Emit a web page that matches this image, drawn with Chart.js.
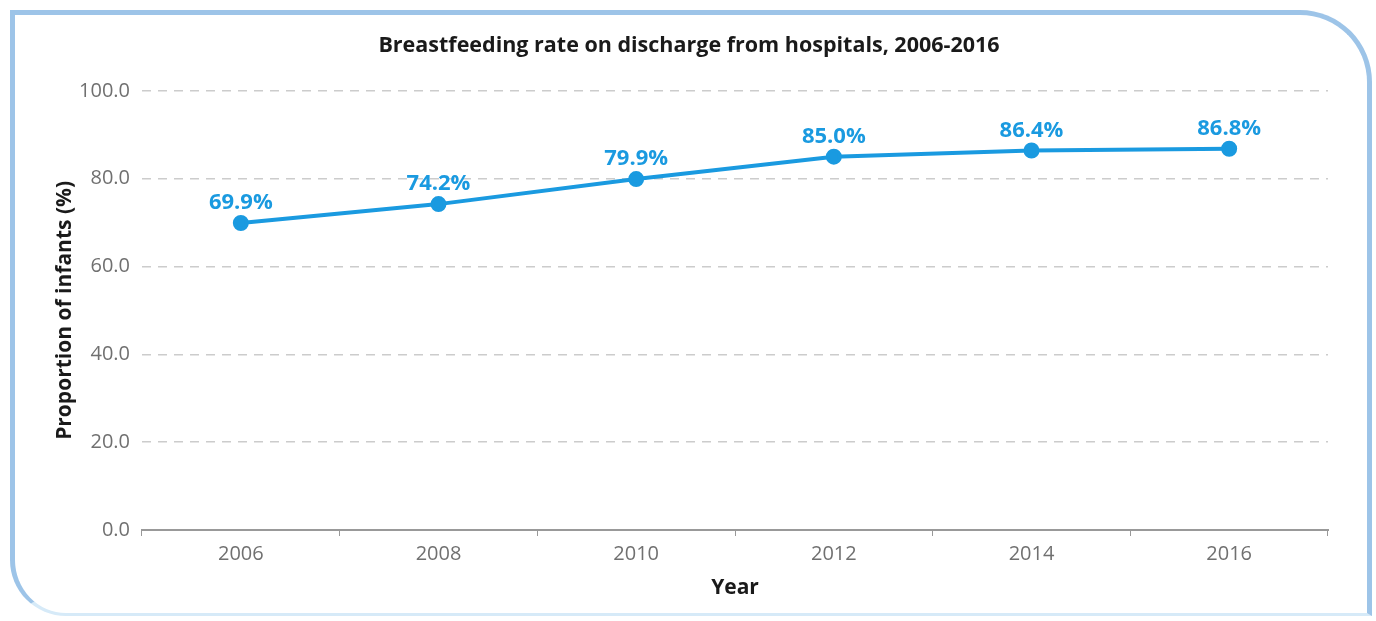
<!DOCTYPE html>
<html lang="en">
<head>
    <meta charset="UTF-8">
    <title>Breastfeeding rate</title>
    <script src="https://cdn.jsdelivr.net/npm/chart.js"></script>
    <style>
        html, body { margin: 0; padding: 0; background: #fff; }
        #wrap { position: relative; width: 1376px; height: 621px; }
        #frame {
            position: absolute; left: 10px; top: 10px; width: 1352px; height: 598px;
            border: 5px solid #9dc4e8; border-bottom: 3px solid #d6eaf8;
            border-radius: 0 72px 0 56px;
        }
        #rateChart { position: absolute; left: 0; top: 0; }
    </style>
</head>
<body>
<div id="wrap">
    <div id="frame"></div>
    <canvas id="rateChart" width="1376" height="621"></canvas>
</div>
<script>
    const years = ['2006', '2008', '2010', '2012', '2014', '2016'];
    const rates = [69.9, 74.2, 79.9, 85.0, 86.4, 86.8];
    const yTicks = [0, 20, 40, 60, 80, 100];

    const blue = '#1a9ae0';
    const font = "'Open Sans', 'Noto Sans', sans-serif";

    // value labels above each point
    const pointLabels = {
        id: 'pointLabels',
        afterDatasetsDraw(chart) {
            const ctx = chart.ctx;
            const meta = chart.getDatasetMeta(0);
            ctx.save();
            ctx.fillStyle = blue;
            ctx.font = 'bold 22px ' + font;
            ctx.textAlign = 'center';
            ctx.textBaseline = 'alphabetic';
            meta.data.forEach((pt, i) => {
                ctx.fillText(rates[i].toFixed(1) + '%', pt.x, pt.y - 14);
            });
            ctx.restore();
        }
    };

    const ctx = document.getElementById('rateChart').getContext('2d');
    new Chart(ctx, {
        type: 'line',
        data: {
            labels: years,
            datasets: [{
                data: rates,
                borderColor: blue,
                backgroundColor: blue,
                borderWidth: 4,
                pointRadius: 6,
                pointHoverRadius: 6,
                fill: false,
                tension: 0
            }]
        },
        options: {
            responsive: false,
            animation: false,
            layout: { padding: { top: 10, left: 50, right: 48, bottom: 16 } },
            plugins: {
                legend: { display: false },
                tooltip: { enabled: false },
                title: {
                    display: true,
                    text: 'Breastfeeding rate on discharge from hospitals, 2006-2016',
                    color: '#1a1a1a',
                    font: { family: font, size: 21.5, weight: 'bold' },
                    padding: { top: 23, bottom: 32 }
                }
            },
            scales: {
                x: {
                    offset: true,
                    grid: {
                        offset: true,
                        drawOnChartArea: false,
                        drawTicks: true,
                        tickLength: 6,
                        color: '#999'
                    },
                    border: { display: true, color: '#999', width: 2 },
                    ticks: {
                        color: '#707070',
                        padding: 6,
                        font: { family: font, size: 20 }
                    },
                    title: {
                        display: true,
                        text: 'Year',
                        color: '#1a1a1a',
                        font: { family: font, size: 21, weight: 'bold' },
                        padding: { top: 4, bottom: 4 }
                    },
                    afterFit(scale) { scale.height = 75; }
                },
                y: {
                    min: 0,
                    max: 100,
                    afterBuildTicks(scale) { scale.ticks = yTicks.map(v => ({ value: v })); },
                    grid: {
                        color: '#ccc',
                        lineWidth: 1.5,
                        drawTicks: false
                    },
                    border: { display: false, dash: [9, 7] },
                    ticks: {
                        color: '#707070',
                        padding: 12,
                        font: { family: font, size: 20 },
                        callback: v => v.toFixed(1)
                    },
                    title: {
                        display: true,
                        text: 'Proportion of infants (%)',
                        color: '#1a1a1a',
                        font: { family: font, size: 21, weight: 'bold' },
                        padding: { top: 2, bottom: 4 }
                    },
                    afterFit(scale) { scale.width = 92; }
                }
            }
        },
        plugins: [pointLabels]
    });
</script>
</body>
</html>
